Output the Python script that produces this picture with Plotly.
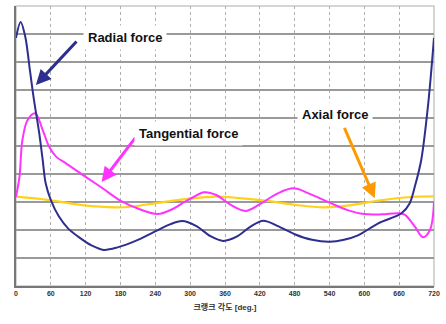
import plotly.graph_objects as go

# Data (crank angle in degrees, force in relative grid units)
radial_deg = [0, 8, 16, 24, 31, 40, 46, 51, 60, 74, 90, 110, 130, 151, 175, 205, 238, 265, 286, 310, 335, 357, 380, 404, 426, 450, 480, 510, 540, 565, 590, 624, 664, 678, 687, 698, 710, 720]
radial_val = [8.86, 9.43, 8.9, 7.7, 6.64, 5.46, 4.5, 3.68, 3.07, 2.48, 2.05, 1.72, 1.45, 1.29, 1.38, 1.6, 1.93, 2.2, 2.32, 2.15, 1.78, 1.61, 1.76, 2.12, 2.33, 2.15, 1.85, 1.65, 1.58, 1.65, 1.82, 2.24, 2.6, 2.95, 3.55, 4.5, 6.5, 8.86]

tang_deg = [0, 6, 11, 20, 33, 46, 57, 69, 86, 120, 149, 183, 213, 244, 270, 290, 305, 324, 345, 368, 395, 420, 450, 478, 505, 543, 570, 600, 630, 658, 670, 687, 701, 713, 720]
tang_val = [3.19, 3.9, 5.21, 5.93, 6.17, 5.57, 4.98, 4.62, 4.38, 3.9, 3.49, 3.01, 2.74, 2.57, 2.75, 3.0, 3.17, 3.35, 3.25, 2.92, 2.68, 2.92, 3.3, 3.49, 3.3, 2.95, 2.72, 2.57, 2.56, 2.6, 2.54, 2.12, 1.74, 2.0, 3.01]

axial_deg = [0, 57, 114, 171, 201, 247, 303, 344, 380, 429, 480, 531, 575, 624, 675, 720]
axial_val = [3.19, 3.07, 2.89, 2.81, 2.84, 2.98, 3.13, 3.19, 3.15, 3.05, 2.9, 2.81, 2.88, 3.05, 3.17, 3.2]

x_ticks = [0, 60, 120, 180, 240, 300, 360, 420, 480, 540, 600, 660, 720]
x_title = "크랭크 각도 [deg.]"

NAVY = "#2e2e8f"
MAGENTA = "#ff33ff"
YELLOW = "#ffd21a"
ORANGE = "#ff9900"

fig = go.Figure()
fig.add_trace(go.Scatter(x=axial_deg, y=axial_val, mode="lines",
                         line=dict(color=YELLOW, width=2.2, shape="spline", smoothing=1.0)))
fig.add_trace(go.Scatter(x=tang_deg, y=tang_val, mode="lines",
                         line=dict(color=MAGENTA, width=2, shape="spline", smoothing=1.0)))
fig.add_trace(go.Scatter(x=radial_deg, y=radial_val, mode="lines",
                         line=dict(color=NAVY, width=2, shape="spline", smoothing=0.9)))

font_main = "Arial, 'Liberation Sans', 'Noto Sans CJK KR', sans-serif"

# arrows
arrows = [
    (34.3, 7.18, 42, -45, NAVY),
    (147.4, 3.71, 35, -46, MAGENTA),
    (618, 3.13, -31, -72, ORANGE),
]
for (hx, hy, ax, ay, col) in arrows:
    fig.add_annotation(x=hx, y=hy, ax=ax, ay=ay, text="", showarrow=True,
                       arrowhead=2, arrowsize=1, arrowwidth=3, arrowcolor=col, standoff=0)

labels = [
    ("Radial force", 186.9, 8.89),
    ("Tangential force", 297.4, 5.46),
    ("Axial force", 550.3, 6.11),
]
for (t, lx, ly) in labels:
    fig.add_annotation(x=lx, y=ly, text="<b>%s</b>" % t, showarrow=False,
                       font=dict(family=font_main, size=13, color="#111111"),
                       bgcolor="white", borderpad=4)

# light border around plot (top/right)
fig.add_shape(type="rect", xref="paper", yref="paper", x0=0, y0=0, x1=1, y1=1,
              line=dict(color="#c8c8c8", width=1.5), layer="below")

fig.update_layout(
    width=446, height=324,
    margin=dict(l=16, r=10, t=6, b=38),
    paper_bgcolor="white", plot_bgcolor="white",
    showlegend=False,
    font=dict(family=font_main, size=8, color="#333333"),
)
fig.update_xaxes(range=[0, 720], tickvals=x_ticks, ticktext=["<b>%d</b>" % v for v in x_ticks],
                 tickfont=dict(size=7, color="#333333"),
                 showgrid=True, gridcolor="#b0b0b0", griddash="dot", gridwidth=1,
                 showline=True, linecolor="#777777", linewidth=1.5,
                 zeroline=False, ticks="", ticklen=0,
                 title=dict(text="<b>" + x_title + "</b>", font=dict(size=8, color="#333333"), standoff=8))
fig.update_yaxes(range=[0, 10], dtick=1, showticklabels=False,
                 showgrid=True, gridcolor="#9a9a9a", gridwidth=1.5,
                 showline=True, linecolor="#777777", linewidth=1.5,
                 zeroline=False, ticks="")

fig.write_html("out.html")
